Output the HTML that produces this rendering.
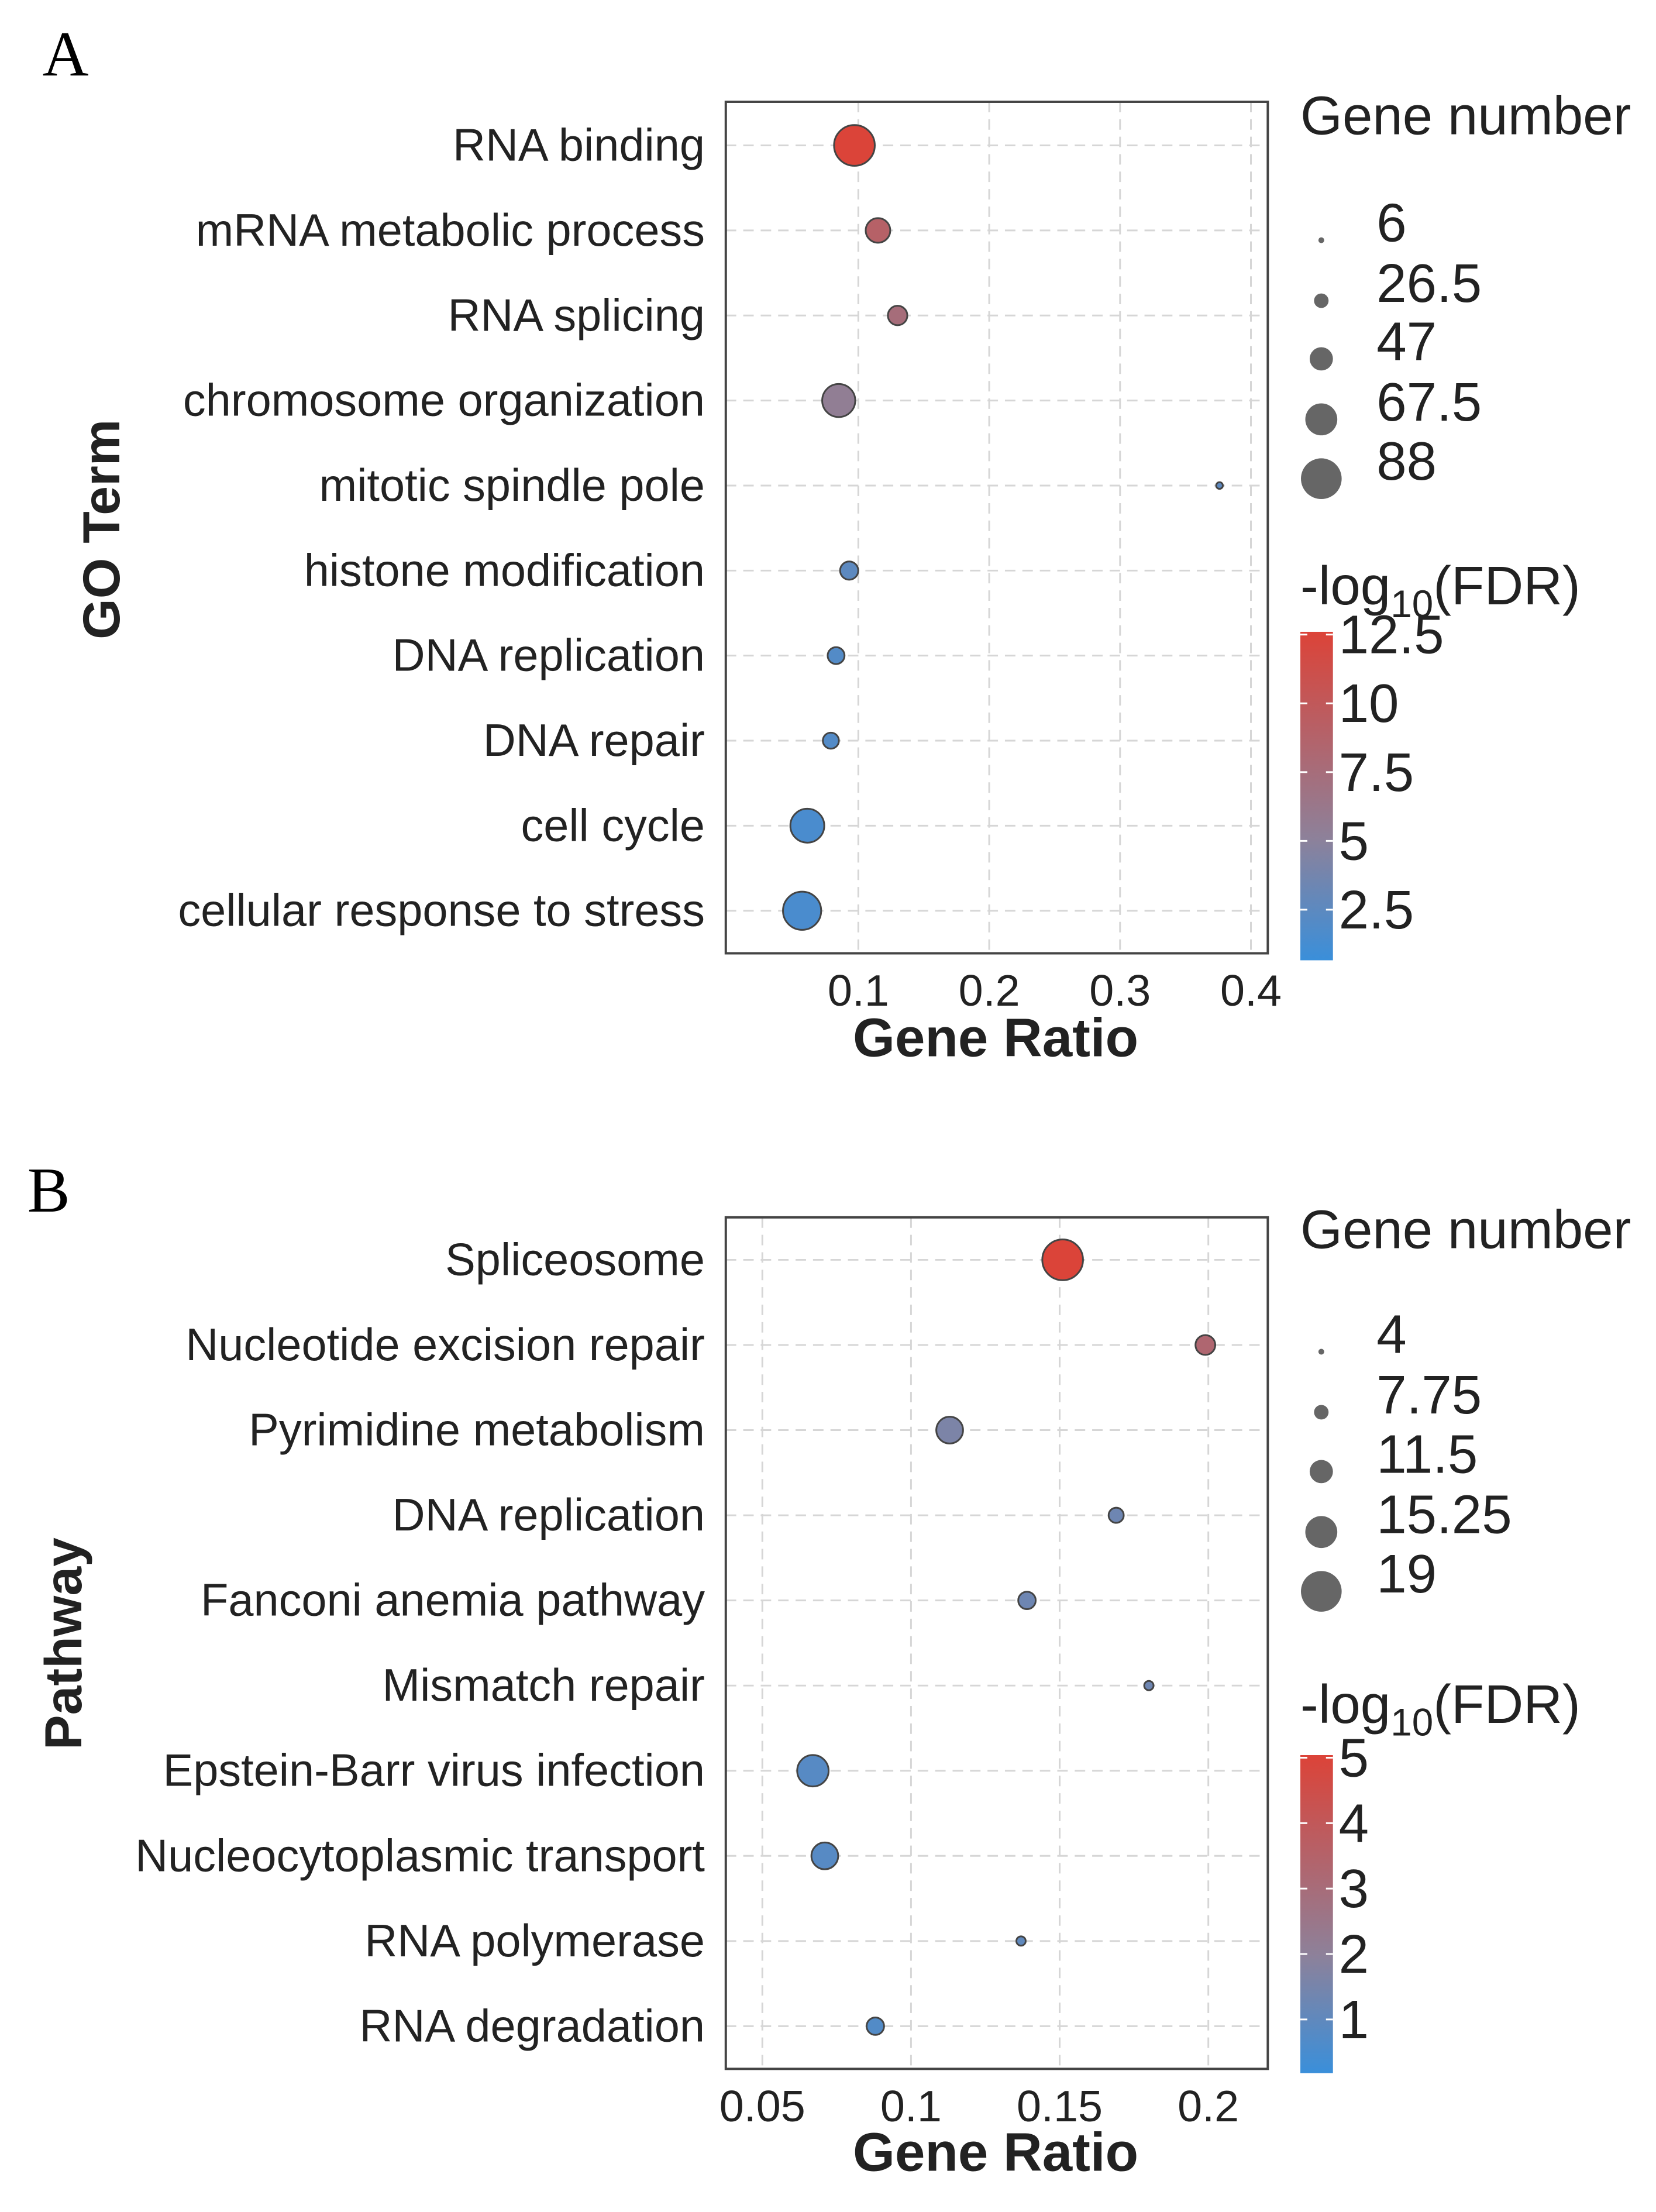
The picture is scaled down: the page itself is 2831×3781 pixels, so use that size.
<!DOCTYPE html>
<html><head><meta charset="utf-8"><style>
html,body{margin:0;padding:0;background:#fff}
svg{display:block}
text{font-family:"Liberation Sans",sans-serif;fill:#222}
</style></head><body>
<svg id="fig" width="2831" height="3781" viewBox="0 0 2831 3781" xmlns="http://www.w3.org/2000/svg">
<defs>
<linearGradient id="cg" x1="0" y1="1" x2="0" y2="0">
<stop offset="0" stop-color="#3a8fda"/><stop offset="0.37" stop-color="#8d819a"/><stop offset="1" stop-color="#dc4338"/>
</linearGradient>
</defs>
<g id="root" transform="scale(0.9942)">
<text x="73" y="130" style="font-family:'Liberation Serif',serif;font-size:110px;fill:#000">A</text>
<text x="47" y="2083" style="font-family:'Liberation Serif',serif;font-size:110px;fill:#000">B</text>
</g>
</svg>
<script>
// Panel A data
const aTerms = ["RNA binding","mRNA metabolic process","RNA splicing","chromosome organization","mitotic spindle pole","histone modification","DNA replication","DNA repair","cell cycle","cellular response to stress"];
const aRatio = [0.097,0.115,0.130,0.085,0.376,0.093,0.083,0.079,0.061,0.057];
const aCount = [88,50,38,70,8,35,32,30,72,82];
const aFdr = [12.5,9,7.5,5.5,2.5,2.5,2,2,1.5,1.5];
const aXTicks = [0.1,0.2,0.3,0.4];
const aSizeTicks = [6,26.5,47,67.5,88];
const aColorTicks = [12.5,10,7.5,5,2.5];
// Panel B data
const bTerms = ["Spliceosome","Nucleotide excision repair","Pyrimidine metabolism","DNA replication","Fanconi anemia pathway","Mismatch repair","Epstein-Barr virus infection","Nucleocytoplasmic transport","RNA polymerase","RNA degradation"];
const bRatio = [0.151,0.199,0.113,0.169,0.139,0.180,0.067,0.071,0.137,0.088];
const bCount = [19,10,13,8,9,5.5,15,13,5.5,9];
const bFdr = [5,3.3,1.6,1.3,1.3,1.3,0.8,0.8,1.0,0.7];
const bXTicks = [0.05,0.1,0.15,0.2];
const bSizeTicks = [4,7.75,11.5,15.25,19];
const bColorTicks = [5,4,3,2,1];

const NS="http://www.w3.org/2000/svg";
const root=document.getElementById('root');
function mk(tag,attrs,parent){const e=document.createElementNS(NS,tag);for(const k in attrs)e.setAttribute(k,attrs[k]);(parent||root).appendChild(e);return e;}
function lerp(a,b,t){return a+(b-a)*t;}
function hex(c){return [parseInt(c.slice(1,3),16),parseInt(c.slice(3,5),16),parseInt(c.slice(5,7),16)];}
const stops=[[0,hex('#3a8fda')],[0.37,hex('#8d819a')],[1,hex('#dc4338')]];
function colAt(t){t=Math.max(0,Math.min(1,t));let i=t<=0.37?0:1;const a=stops[i],b=stops[i+1];const u=(t-a[0])/(b[0]-a[0]);const c=a[1].map((v,j)=>Math.round(lerp(v,b[1][j],u)));return `rgb(${c[0]},${c[1]},${c[2]})`;}

function panel(p){
  const g=mk('g',{});
  
  
  const X=v=>p.L+(v-p.x0)/(p.x1-p.x0)*(p.R-p.L);
  const Y=i=>p.row0+i*p.rowStep;
  const Rz=v=>5+(v-p.s0)/(p.s1-p.s0)*30;
  const C=v=>colAt((v-p.c0)/(p.c1-p.c0));
  const CY=v=>p.cyRef-(v-p.cvRef)*p.cyPer;
  p.xticks.forEach(t=>{const l=mk('line',{x1:X(t),x2:X(t),y1:p.T,y2:p.B,stroke:'#d6d6d6','stroke-width':3,'stroke-dasharray':'18,12'},g);
    
    });
  p.terms.forEach((t,i)=>{const l=mk('line',{x1:p.L,x2:p.R,y1:Y(i),y2:Y(i),stroke:'#d6d6d6','stroke-width':3,'stroke-dasharray':'18,12'},g);
    
    });
  const box=mk('rect',{x:p.L,y:p.T,width:p.R-p.L,height:p.B-p.T,fill:'none',stroke:'#444','stroke-width':4},g);
  
  
  p.terms.forEach((t,i)=>{const e=mk('text',{x:1212,y:Y(i),'text-anchor':'end','dominant-baseline':'central','font-size':78},g);e.textContent=t;
    
    });
  p.xticks.forEach(t=>{const e=mk('text',{x:X(t),y:p.tickY,'text-anchor':'middle','font-size':76},g);e.textContent=String(t);
    
    });
  const xt=mk('text',{x:1712,y:p.titleY,'text-anchor':'middle','font-size':93,'font-weight':'bold'},g);xt.textContent='Gene Ratio';
  
  
  const yt=mk('text',{x:p.ytX,y:p.ytY,'text-anchor':'middle','font-size':90,'font-weight':'bold',transform:`rotate(-90 ${p.ytX} ${p.ytY})`},g);yt.textContent=p.ytitle;
  
  
  p.terms.forEach((t,i)=>{const c=mk('circle',{cx:X(p.ratio[i]),cy:Y(i),r:Math.min(Rz(p.count[i]),p.rMax),fill:C(p.fdr[i]),stroke:'#444','stroke-width':3},g);
    
    });
  const gt=mk('text',{x:2236,y:p.gnY,'font-size':93},g);gt.textContent='Gene number';
  
  
  p.sizeTicks.forEach((s,i)=>{const cy=p.legY[i];
    const c=mk('circle',{cx:2272,cy:cy,r:Rz(s),fill:'#666'},g);
    
    
    const e=mk('text',{x:2367,y:cy+2,'font-size':93},g);e.textContent=String(s);
    
    });
  const ct=mk('text',{x:2236,y:p.clY,'font-size':93},g);
  ct.innerHTML='-log<tspan font-size="66" dy="22">10</tspan><tspan dy="-22">(FDR)</tspan>';
  
  
  const bar=mk('rect',{x:2236,y:CY(p.c1),width:56,height:CY(p.c0)-CY(p.c1),fill:'url(#cg)'},g);
  
  
  p.colorTicks.forEach(v=>{const y=CY(v);
    const l1=mk('line',{x1:2236,x2:2248,y1:y,y2:y,stroke:'#fff','stroke-width':3},g);
    
    
    const l2=mk('line',{x1:2280,x2:2292,y1:y,y2:y,stroke:'#fff','stroke-width':3},g);
    
    
    const e=mk('text',{x:2302,y:y,'dominant-baseline':'central','font-size':93},g);e.textContent=String(v);
    
    });
}
panel({name:'go',terms:aTerms,ratio:aRatio,count:aCount,fdr:aFdr,xticks:aXTicks,sizeTicks:aSizeTicks,colorTicks:aColorTicks,
  L:1248,R:2180,T:175,B:1639,x0:-0.0013,x1:0.4129,row0:250,rowStep:146.2,s0:6,s1:88,rMax:40,
  c0:0.66,c1:12.6,cyRef:1564,cvRef:2.5,cyPer:47.3,tickY:1729,titleY:1816,ytitle:'GO Term',ytX:205,ytY:910,
  gnY:231,legY:[413,517,617,721,823],clY:1039});
panel({name:'kegg',terms:bTerms,ratio:bRatio,count:bCount,fdr:bFdr,xticks:bXTicks,sizeTicks:bSizeTicks,colorTicks:bColorTicks,
  L:1248,R:2180,T:2093,B:3557,x0:0.0377,x1:0.220,row0:2166,rowStep:146.4,s0:4,s1:19,rMax:39,
  c0:0.18,c1:5.04,cyRef:3472,cvRef:1,cyPer:112.5,tickY:3647,titleY:3732,ytitle:'Pathway',ytX:140,ytY:2826,
  gnY:2146,legY:[2324,2428,2530,2634,2736],clY:2962});
</script>
</body></html>
